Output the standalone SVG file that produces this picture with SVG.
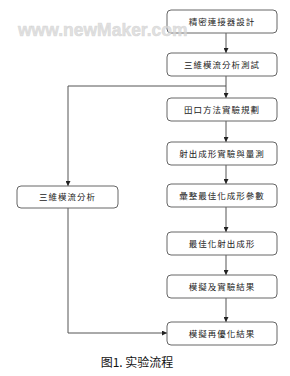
<svg xmlns="http://www.w3.org/2000/svg" width="290" height="376" viewBox="0 0 290 376">
<style>
.box{fill:#fff;stroke:#666;stroke-width:1}
.t{font-family:"Noto Sans CJK TC","Noto Sans CJK SC",sans-serif;font-size:8.5px;fill:#222;text-anchor:middle;letter-spacing:1px}
.c{fill:none;stroke:#555;stroke-width:1}
.wm{font-family:"Liberation Sans",Arial,sans-serif;font-weight:bold;font-size:17.5px;fill:#d8d8d8;fill-opacity:0.75;stroke:#cfcfcf;stroke-opacity:0.7;stroke-width:0.6}
.cap{font-family:"Noto Sans CJK SC",sans-serif;font-size:12px;fill:#111;text-anchor:middle}
</style>
<defs>
<marker id="ah" viewBox="0 0 6 6" refX="6" refY="3" markerWidth="5" markerHeight="5" orient="auto" markerUnits="userSpaceOnUse">
<path d="M0,0 L6,3 L0,6 z" fill="#222"/>
</marker>
</defs>
<rect width="290" height="376" fill="#fff"/>
<g id="connectors">
<path class="c" d="M226,33 V53" marker-end="url(#ah)"/>
<path class="c" d="M226,76 V98" marker-end="url(#ah)"/>
<path class="c" d="M226,121 V142" marker-end="url(#ah)"/>
<path class="c" d="M226,165 V184" marker-end="url(#ah)"/>
<path class="c" d="M226,207 V232" marker-end="url(#ah)"/>
<path class="c" d="M226,255 V275" marker-end="url(#ah)"/>
<path class="c" d="M226,298 V322" marker-end="url(#ah)"/>
<path class="c" d="M226,86 H68 V186" marker-end="url(#ah)"/>
<path class="c" d="M68,208 V333 H167" marker-end="url(#ah)"/>
</g>
<g id="n1"><rect class="box" x="167" y="10" width="110" height="23" rx="4"/><text class="t" x="222" y="24.5">精密連接器設計</text></g>
<g id="n2"><rect class="box" x="167" y="53" width="110" height="23" rx="4"/><text class="t" x="222" y="67.5">三維模流分析測試</text></g>
<g id="n3"><rect class="box" x="167" y="98" width="110" height="23" rx="4"/><text class="t" x="222" y="112.5">田口方法實驗規劃</text></g>
<g id="n4"><rect class="box" x="167" y="142" width="110" height="23" rx="4"/><text class="t" x="222" y="156.5">射出成形實驗與量測</text></g>
<g id="n5"><rect class="box" x="167" y="184" width="110" height="23" rx="4"/><text class="t" x="222" y="198.5">彙整最佳化成形參數</text></g>
<g id="n6"><rect class="box" x="167" y="232" width="110" height="23" rx="4"/><text class="t" x="222" y="246.5">最佳化射出成形</text></g>
<g id="n7"><rect class="box" x="167" y="275" width="110" height="23" rx="4"/><text class="t" x="222" y="289.5">模擬及實驗結果</text></g>
<g id="n8"><rect class="box" x="167" y="322" width="110" height="23" rx="4"/><text class="t" x="222" y="336.5">模擬再優化結果</text></g>
<g id="nL"><rect class="box" x="17" y="186" width="101" height="22" rx="4"/><text class="t" x="67.5" y="200">三維模流分析</text></g>
<text class="wm" x="18" y="36">www.newMaker.com</text>
<text class="cap" x="137" y="367">图1. 实验流程</text>
</svg>
